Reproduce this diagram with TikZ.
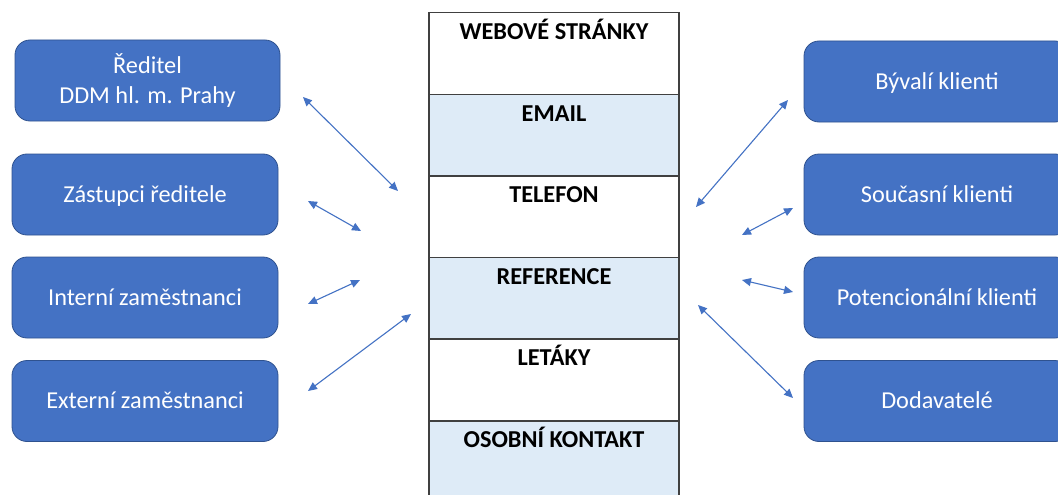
\documentclass[tikz,border=0pt]{standalone}
\usepackage{fontspec}
\setmainfont{Carlito}
\usetikzlibrary{arrows.meta}
\definecolor{partyblue}{HTML}{4472C4}
\definecolor{partyedge}{HTML}{2F528F}
\definecolor{rowblue}{HTML}{DEEBF7}
\definecolor{rowedge}{HTML}{404040}
\tikzset{
  party/.style={draw=partyedge, line width=0.8pt, fill=partyblue, rounded corners=15pt,
    minimum height=81pt, text=white, align=center, inner sep=0pt,
    text height=17.5pt, text depth=2pt,
    font=\fontsize{24.3}{29.5}\selectfont},
  channel/.style={draw=rowedge, line width=1.5pt, minimum width=250pt, minimum height=81.6pt,
    inner sep=0pt, anchor=north},
  channeltext/.style={anchor=base, inner sep=0pt, font=\fontsize{24.3}{28}\selectfont\bfseries},
  link/.style={draw=partyblue, line width=1.1pt,
    {Triangle[length=9pt,width=8pt]}-{Triangle[length=9pt,width=8pt]}}
}
\begin{document}
\begin{tikzpicture}[x=1pt,y=-1pt]
\useasboundingbox (0,0) rectangle (1058,495);
\clip (0,0) rectangle (1058,495);
\fill[white] (0,0) rectangle (1058,495);

% communication channels (central column)
\node[channel, fill=white]   (web)  at (554,12)    {};
\node[channel, fill=rowblue] (mail) at (554,93.6)  {};
\node[channel, fill=white]   (tel)  at (554,175.2) {};
\node[channel, fill=rowblue] (ref)  at (554,256.8) {};
\node[channel, fill=white]   (flyer) at (554,338.4) {};
\node[channel, fill=rowblue] (pers) at (554,420)   {};
\node[channeltext] (webt)  at ([yshift=-27.5pt]web.north)   {WEBOVÉ STRÁNKY};
\node[channeltext] (mailt) at ([yshift=-27.5pt]mail.north)  {EMAIL};
\node[channeltext] (telt)  at ([yshift=-27.5pt]tel.north)   {TELEFON};
\node[channeltext] (reft)  at ([yshift=-27.5pt]ref.north)   {REFERENCE};
\node[channeltext] (flyert) at ([yshift=-27.5pt]flyer.north) {LETÁKY};
\node[channeltext] (perst) at ([yshift=-27.5pt]pers.north)  {OSOBNÍ KONTAKT};

% internal parties
\node[party, minimum width=265pt, text height=47pt] (dir) at (147.5,80.5) {Ředitel\\DDM hl. m. Prahy};
\node[party, minimum width=266pt] (dep)  at (145,194.5) {Zástupci ředitele};
\node[party, minimum width=266pt] (int)  at (145,297.5) {Interní zaměstnanci};
\node[party, minimum width=266pt] (ext)  at (145,401)   {Externí zaměstnanci};

% external parties
\node[party, minimum width=266pt] (former)  at (937,81.5)  {Bývalí klienti};
\node[party, minimum width=266pt] (current) at (937,194.5) {Současní klienti};
\node[party, minimum width=266pt] (poten)   at (937,297.5) {Potencionální klienti};
\node[party, minimum width=266pt] (supp)    at (937,401)   {Dodavatelé};

% arrow end points
\coordinate (l1a) at (303,97);  \coordinate (l1b) at (398,191);
\coordinate (l2a) at (308,201); \coordinate (l2b) at (361,231);
\coordinate (l3a) at (308,304); \coordinate (l3b) at (360,280);
\coordinate (l4a) at (308,391); \coordinate (l4b) at (411,314);
\coordinate (r1a) at (696,207); \coordinate (r1b) at (788,100);
\coordinate (r2a) at (742,235); \coordinate (r2b) at (793,208);
\coordinate (r3a) at (742,280); \coordinate (r3b) at (793,292);
\coordinate (r4a) at (698,305); \coordinate (r4b) at (793,398);

\draw[link] (l1a) -- (l1b);
\draw[link] (l2a) -- (l2b);
\draw[link] (l3a) -- (l3b);
\draw[link] (l4a) -- (l4b);
\draw[link] (r1a) -- (r1b);
\draw[link] (r2a) -- (r2b);
\draw[link] (r3a) -- (r3b);
\draw[link] (r4a) -- (r4b);
\end{tikzpicture}
\end{document}
